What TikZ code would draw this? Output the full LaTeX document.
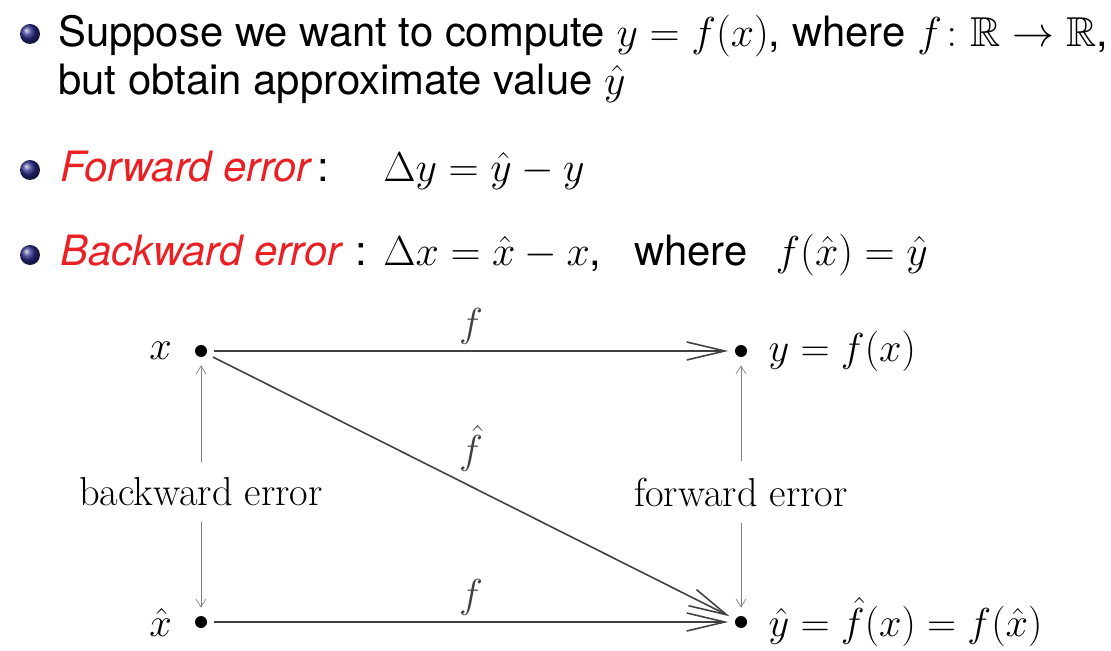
\RequirePackage{fix-cm}
\documentclass[tikz,border=0pt]{standalone}
\usepackage{amsmath,amssymb}
\usepackage{fontspec}
\newfontfamily\slidefont{TeX Gyre Heros}
\usetikzlibrary{arrows.meta,positioning}
\definecolor{slidered}{RGB}{235,32,36}
\definecolor{bulletblue}{RGB}{45,45,140}
\begin{document}
\begin{tikzpicture}
[x=0.02cm,y=-0.02cm,
  bulletdecorate/.style={shape=circle,ball color=bulletblue,inner sep=0pt,minimum size=0.4cm},%
  textdecorate/.style={anchor=base west,inner sep=0pt,font=\slidefont\fontsize{23.8}{28}\selectfont},%
  dotdecorate/.style={shape=circle,fill=black,inner sep=0pt,minimum size=0.24cm},%
  labeldecorate/.style={font=\fontsize{23}{27}\selectfont},%
  mapdecorate/.style={-{Straight Barb[length=0.76cm,width=0.36cm]},line width=0.9pt,black!75,
    shorten <=0.14cm,shorten >=0.13cm},%
  errordecorate/.style={-{Straight Barb[length=0.16cm,width=0.2cm]},gray,
    shorten <=0.2cm,shorten >=0.16cm}]
\useasboundingbox (0,0) rectangle (1111,651);
%% bullets
\foreach \nodename/\y in {bullet1/34, bullet2/170, bullet3/255} {
  \node (\nodename) at (30,\y) [bulletdecorate] {};
}
%% bullet texts
\node (suppose) at (58,47) [textdecorate]
  {Suppose we want to compute $y=f(x)$, where $f\colon\mathbb{R}\to\mathbb{R}$,};
\node (obtain) at (58,95) [textdecorate] {but obtain approximate value $\hat{y}$};
\node (fwdtitle) at (60,182) [textdecorate] {{\color{slidered}\itshape Forward error}\,:};
\node (fwdeq) at (383,182) [textdecorate] {$\Delta y=\hat{y}-y$};
\node (bwdtitle) at (60,266) [textdecorate] {{\color{slidered}\itshape Backward error}\,\,:};
\node (bwdeq) at (383,266) [textdecorate]
  {$\Delta x=\hat{x}-x$,\hspace{0.78em}where\hspace{0.67em}$f(\hat{x})=\hat{y}$};
%% nodes or vertices
\foreach \nodename/\x/\y in {x/201/351, y/741/351, xhat/201/622, yhat/741/622} {
  \node (\nodename) at (\x,\y) [dotdecorate] {};
}
%% vertex labels
\node (xlabel) [labeldecorate,left=0.45cm of x,inner sep=0pt] {$x$};
\node (xhatlabel) [labeldecorate,left=0.45cm of xhat,inner sep=0pt] {$\hat{x}$};
\node (ylabel) [labeldecorate,right=0.42cm of y,inner sep=0pt] {$y=f(x)$};
\node (yhatlabel) [labeldecorate,right=0.42cm of yhat,inner sep=0pt] {$\hat{y}=\hat{f}(x)=f(\hat{x})$};
\node (bwdlabel) at (201,492) [labeldecorate] {backward error};
\node (fwdlabel) at (741,492) [labeldecorate] {forward error};
%% edges or lines
\path
(x) edge[mapdecorate] node[labeldecorate,above] {$f$} (y)
(xhat) edge[mapdecorate] node[labeldecorate,above] {$f$} (yhat)
(x) edge[mapdecorate] node[labeldecorate,above=0.16cm] {$\hat{f}$} (yhat)
(bwdlabel) edge[errordecorate] (x)
(bwdlabel) edge[errordecorate] (xhat)
(fwdlabel) edge[errordecorate] (y)
(fwdlabel) edge[errordecorate] (yhat);
\end{tikzpicture}
\end{document}
